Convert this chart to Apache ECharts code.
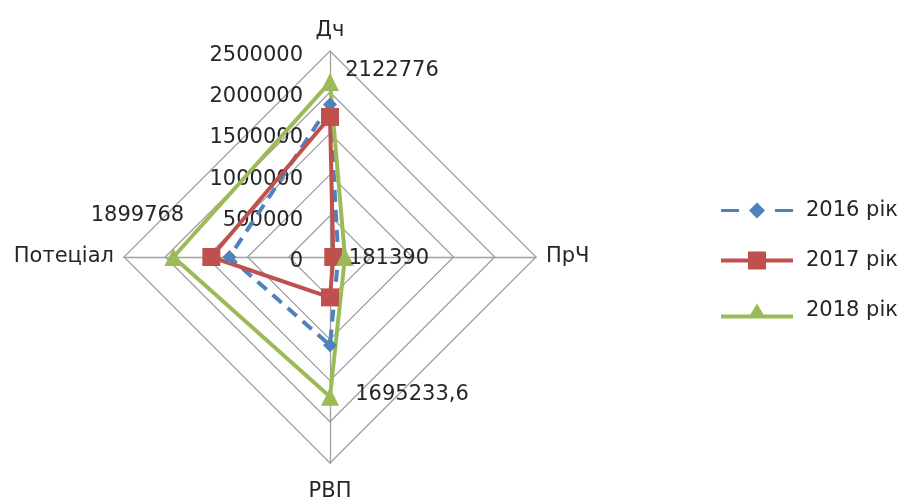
<!DOCTYPE html>
<html><head><meta charset="utf-8">
<script src="https://cdn.jsdelivr.net/npm/echarts@6/dist/echarts.min.js"></script>
<style>html,body{margin:0;padding:0;background:#fff}#c{width:902px;height:497px}</style>
</head><body><div id="c"></div>
<script>
// Indicator order follows ECharts' counter-clockwise layout: top, left, bottom, right
var indicators = ['Дч', 'Потеціал', 'РВП', 'ПрЧ'];
var maxValue = 2500000;
var seriesNames = ['2016 рік', '2017 рік', '2018 рік'];
var values2016 = [1850000, 1220000, 1070000, 100000];
var values2017 = [1700000, 1440000, 490000, 40000];
var values2018 = [2122776, 1899768, 1695233.6, 181390];

var FONT = 'DejaVu Sans';
var TXT = '#262626';
var FS = 21;
var chart = echarts.init(document.getElementById('c'), null, {renderer: 'canvas'});

// label shift per vertex (style only): rich padding moves the centred label
var richKeys = ['t', 'l', 'b', 'r'];
function rs(p) { return {padding: p, fontFamily: FONT, fontSize: FS, color: TXT}; }
var rich = {
  t: rs([0, 0, 24, 124]),
  l: rs([0, 72, 82, 0]),
  b: rs([0, 0, 4, 164]),
  r: rs([4, 0, 0, 88])
};

// legend icons: line with marker, drawn in a 72x18 box
var DOTS = ' M0 0H0.01V0.01H0Z M72 18H71.99V17.99H72Z';
var iconBlue = 'path://M0 7.5H18V10.5H0Z M54 7.5H72V10.5H54Z M28 9L36 1L44 9L36 17Z' + DOTS;
var iconRed = 'path://M0 7H27V11H0Z M45 7H72V11H45Z M27 0H45V18H27Z' + DOTS;
var iconGreen = 'path://M0 13H72V17H0Z M36 2L45 17H27Z' + DOTS;

chart.setOption({
  animation: false,
  legend: {
    orient: 'vertical',
    left: 716,
    top: 195,
    itemWidth: 72,
    itemHeight: 18,
    itemGap: 29,
    textStyle: {fontFamily: FONT, fontSize: FS, color: TXT, padding: [0, 0, 0, 8]},
    data: [
      {name: seriesNames[0], icon: iconBlue, itemStyle: {color: '#4f81bd'}},
      {name: seriesNames[1], icon: iconRed, itemStyle: {color: '#c0504d'}},
      {name: seriesNames[2], icon: iconGreen, itemStyle: {color: '#9bbb59'}}
    ]
  },
  radar: {
    center: [330, 257],
    radius: 206,
    startAngle: 90,
    shape: 'polygon',
    splitNumber: 5,
    axisName: {
      color: TXT, fontFamily: FONT, fontSize: FS,
      formatter: function (n) {
        if (n === 'РВП') return '{down|' + n + '}';
        return n;
      },
      rich: {
        down: {padding: [8, 0, 0, 0], fontFamily: FONT, fontSize: FS, color: TXT}
      }
    },
    nameGap: 10,
    axisLine: {lineStyle: {color: '#a0a0a0', width: 1.3}},
    splitLine: {lineStyle: {color: '#a0a0a0', width: 1.3}},
    splitArea: {show: false},
    axisTick: {show: false},
    axisLabel: {show: false},
    indicator: indicators.map(function (n, i) {
      var o = {name: n, min: 0, max: maxValue};
      if (i === 0) {
        o.axisLabel = {
          show: true, margin: 27, fontFamily: FONT, fontSize: FS, color: TXT,
          showMinLabel: true, showMaxLabel: true,
          formatter: function (v) { return '{a|' + String(v) + '}'; },
          rich: {a: {padding: [9, 0, 0, 0], fontFamily: FONT, fontSize: FS, color: TXT}}
        };
      }
      return o;
    })
  },
  series: [{
    type: 'radar',
    symbol: 'diamond',
    symbolSize: 14,
    lineStyle: {color: '#4f81bd', width: 4, type: [12, 8]},
    itemStyle: {color: '#4f81bd'},
    data: [{name: seriesNames[0], value: values2016}]
  }, {
    type: 'radar',
    symbol: 'rect',
    symbolSize: 18,
    lineStyle: {color: '#c0504d', width: 4},
    itemStyle: {color: '#c0504d'},
    data: [{name: seriesNames[1], value: values2017}]
  }, {
    type: 'radar',
    symbol: 'triangle',
    symbolSize: 18,
    lineStyle: {color: '#9bbb59', width: 4},
    itemStyle: {color: '#9bbb59'},
    label: {
      show: true,
      position: 'inside',
      formatter: function (p) {
        var k = richKeys[p.dimensionIndex] || 'r';
        return '{' + k + '|' + String(p.value).replace('.', ',') + '}';
      },
      rich: rich
    },
    data: [{name: seriesNames[2], value: values2018}]
  }]
});
</script></body></html>
